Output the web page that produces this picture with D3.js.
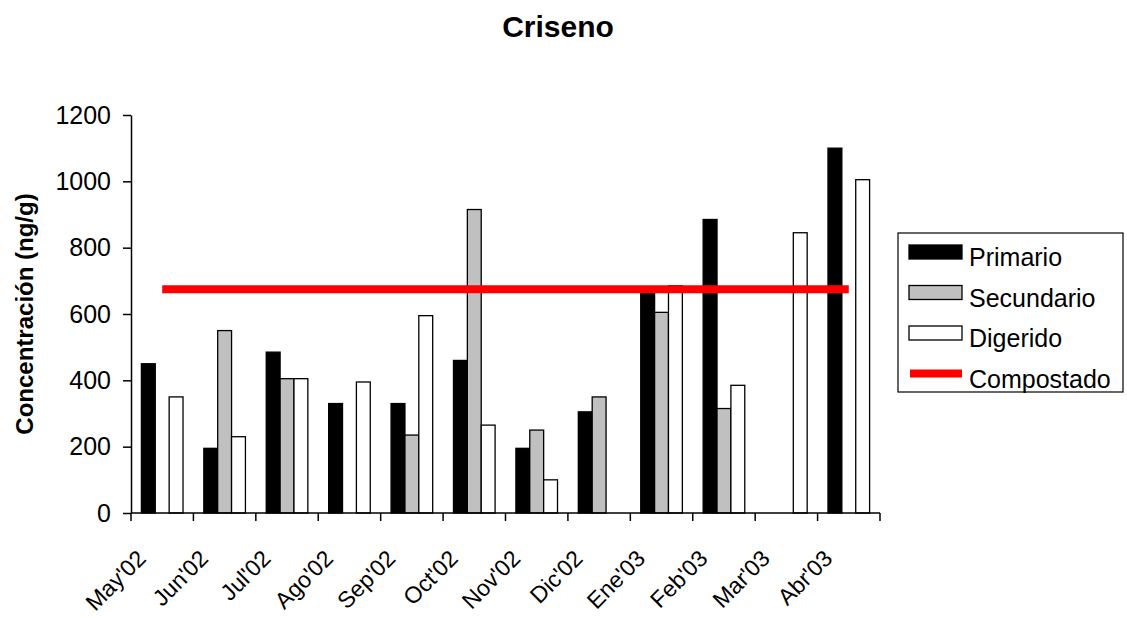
<!DOCTYPE html>
<html>
<head>
<meta charset="utf-8">
<script src="https://cdn.jsdelivr.net/npm/d3@7"></script>
<style>
  body { margin: 0; background: #fff; }
  svg { display: block; font-family: "Liberation Sans", Arial, sans-serif; }
</style>
</head>
<body>
<svg id="drawing_region"></svg>
<script>
// data
const months = ["May'02", "Jun'02", "Jul'02", "Ago'02", "Sep'02", "Oct'02",
                "Nov'02", "Dic'02", "Ene'03", "Feb'03", "Mar'03", "Abr'03"];
const primario   = [450, 195, 485, 330, 330, 460, 195, 305, 675, 885, null, 1100];
const secundario = [null, 550, 405, null, 235, 915, 250, 350, 605, 315, null, null];
const digerido   = [350, 230, 405, 395, 595, 265, 100, null, 685, 385, 845, 1005];
const compostado = [675, 675, 675, 675, 675, 675, 675, 675, 675, 675, 675, 675];
const yTicks = [0, 200, 400, 600, 800, 1000, 1200];

const seriesNames = ["Primario", "Secundario", "Digerido"];
const seriesValues = [primario, secundario, digerido];
const seriesFill = { Primario: "#000000", Secundario: "#c0c0c0", Digerido: "#ffffff" };

const width = 1127, height = 617;
const margin = { top: 115, right: 247, bottom: 104, left: 131 };
const innerW = width - margin.left - margin.right;
const innerH = height - margin.top - margin.bottom;

const svg = d3.select('#drawing_region')
    .attr('width', width)
    .attr('height', height);

// title
svg.append('text')
    .attr('x', 558).attr('y', 37)
    .attr('text-anchor', 'middle')
    .attr('font-size', 30).attr('font-weight', 'bold')
    .text('Criseno');

const chart = svg.append('g')
    .attr('transform', `translate(${margin.left}, ${margin.top})`);

const x0 = d3.scaleBand().domain(months).range([0, innerW]).padding(0);
const x1 = d3.scaleBand().domain(seriesNames).range([0, x0.bandwidth()])
    .paddingInner(0).paddingOuter(0.75);
const y = d3.scaleLinear().domain([0, 1200]).range([innerH, 0]);

// bars
const rows = [];
months.forEach((m, i) => {
    seriesNames.forEach((s, j) => {
        const v = seriesValues[j][i];
        if (v != null) rows.push({ month: m, series: s, value: v });
    });
});

chart.selectAll('rect.bar')
    .data(rows)
    .join('rect')
    .attr('class', 'bar')
    .attr('x', d => x0(d.month) + x1(d.series))
    .attr('y', d => y(d.value))
    .attr('width', x1.bandwidth())
    .attr('height', d => innerH - y(d.value))
    .attr('fill', d => seriesFill[d.series])
    .attr('stroke', '#000')
    .attr('stroke-width', 1.3);

// y axis
const yaxis = d3.axisLeft(y).tickValues(yTicks).tickFormat(d3.format('d'))
    .tickSize(8).tickPadding(12).tickSizeOuter(0);
const yg = chart.append('g').call(yaxis);
yg.select('.domain').attr('stroke', '#000').attr('stroke-width', 1.5);
yg.selectAll('.tick line').attr('stroke', '#000').attr('stroke-width', 1.5);
yg.selectAll('.tick text').attr('font-size', 25).attr('font-family', '"Liberation Sans", Arial, sans-serif').attr('fill', '#000');

// x axis: ticks at category boundaries
const xg = chart.append('g').attr('transform', `translate(0, ${innerH})`);
xg.append('line')
    .attr('x1', 0).attr('x2', innerW)
    .attr('stroke', '#000').attr('stroke-width', 1.5);
const bounds = months.map(m => x0(m)).concat([innerW]);
xg.selectAll('line.tk')
    .data(bounds)
    .join('line')
    .attr('class', 'tk')
    .attr('x1', d => d).attr('x2', d => d)
    .attr('y1', 0).attr('y2', 8)
    .attr('stroke', '#000').attr('stroke-width', 1.5);
xg.selectAll('text.lbl')
    .data(months)
    .join('text')
    .attr('class', 'lbl')
    .attr('text-anchor', 'end')
    .attr('font-size', 23)
    .attr('transform', d => `translate(${x0(d) + x0.bandwidth() / 2 - 15}, 47) rotate(-45)`)
    .text(d => d);

// compostado line on top of bars
const line = d3.line()
    .x((d, i) => x0(months[i]) + x0.bandwidth() / 2)
    .y(d => y(d));
chart.append('path')
    .datum(compostado)
    .attr('d', line)
    .attr('fill', 'none')
    .attr('stroke', '#ff0000')
    .attr('stroke-width', 8);

// y axis title
svg.append('text')
    .attr('transform', `translate(33, ${margin.top + innerH / 2}) rotate(-90)`)
    .attr('text-anchor', 'middle')
    .attr('font-size', 24).attr('font-weight', 'bold')
    .text('Concentración (ng/g)');

// legend
const legend = svg.append('g').attr('transform', 'translate(898, 233)');
legend.append('rect')
    .attr('width', 225).attr('height', 159)
    .attr('fill', '#fff').attr('stroke', '#000').attr('stroke-width', 1.2);

const items = seriesNames.concat(['Compostado']);
const li = legend.selectAll('g.item')
    .data(items)
    .join('g')
    .attr('class', 'item')
    .attr('transform', (d, i) => `translate(11, ${12 + i * 40.5})`);
li.each(function(d) {
    const g = d3.select(this);
    if (d === 'Compostado') {
        g.append('rect')
            .attr('x', 1).attr('y', 3).attr('width', 52).attr('height', 8)
            .attr('fill', '#ff0000');
    } else {
        g.append('rect')
            .attr('width', 53).attr('height', 14)
            .attr('fill', seriesFill[d]).attr('stroke', '#000').attr('stroke-width', 1.3);
    }
    g.append('text')
        .attr('x', 60).attr('y', 21)
        .attr('font-size', 25)
        .text(d);
});
</script>
</body>
</html>
